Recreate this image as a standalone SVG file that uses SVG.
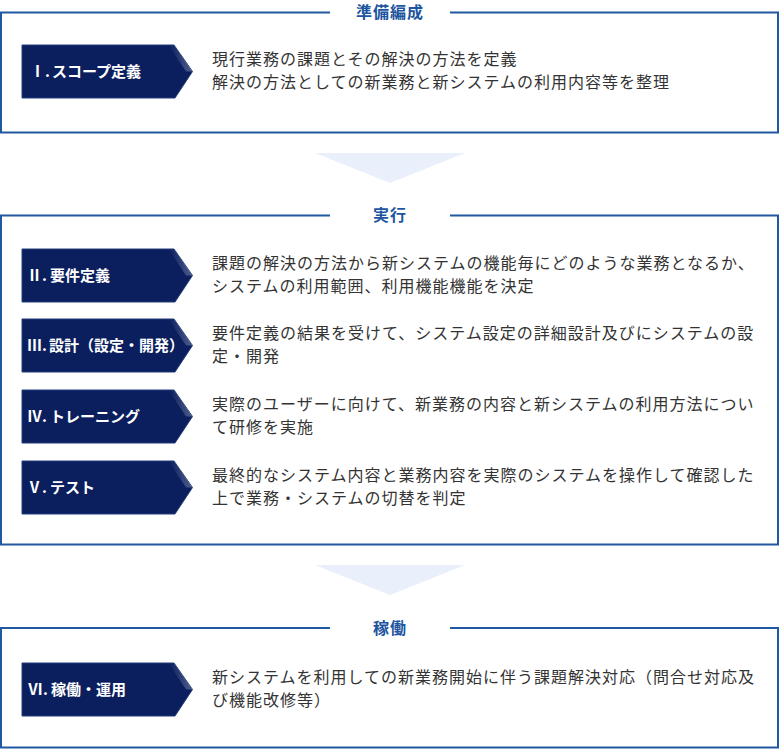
<svg xmlns="http://www.w3.org/2000/svg" xmlns:xlink="http://www.w3.org/1999/xlink" width="780" height="749" viewBox="0 0 780 749">
<style>
.sec{fill:#fff;stroke:#2159a0;stroke-width:2}
.title{font-family:"Noto Sans CJK JP","Noto Sans",sans-serif;font-size:16px;font-weight:bold;fill:#1d55a0;text-anchor:middle;letter-spacing:1px}
.lab{font-family:"Noto Sans CJK JP","Noto Sans",sans-serif;font-size:15px;font-weight:bold;fill:#fff}
.desc{font-family:"Noto Sans CJK JP","Noto Sans",sans-serif;font-size:16px;fill:#333;letter-spacing:1px}
.arrow{fill:#eaeffc}
</style>
<defs>
<linearGradient id="bev" x1="0" y1="0" x2="1" y2="0">
<stop offset="0" stop-color="#ffffff" stop-opacity="0"/>
<stop offset="1" stop-color="#ffffff" stop-opacity="0.28"/>
</linearGradient>
<g id="chev">
<polygon points="22,0 174,0 192.5,26.5 175,53 22,53" fill="#0b1f5e" stroke="#233c7a" stroke-width="1"/>
<polygon points="174,0 192.5,26.5 186,26.5 169,1" fill="url(#bev)"/>
</g>
</defs>

<g id="sections">
<rect class="sec" x="1" y="12.5" width="777" height="120"/>
<rect x="330" y="4" width="120" height="18" fill="#fff"/>
<text class="title" x="390" y="18">準備編成</text>
<rect class="sec" x="1" y="215.5" width="777" height="329"/>
<rect x="330" y="206" width="120" height="18" fill="#fff"/>
<text class="title" x="390" y="221">実行</text>
<rect class="sec" x="1" y="628" width="777" height="119.5"/>
<rect x="330" y="619" width="120" height="18" fill="#fff"/>
<text class="title" x="390" y="634">稼働</text>
</g>

<g id="connectors">
<polygon class="arrow" points="315,153 465,153 390,183"/>
<polygon class="arrow" points="315,565 465,565 390,595"/>
</g>

<g id="node-1">
<use xlink:href="#chev" href="#chev" transform="translate(0,45)"/>
<text class="lab" x="30" y="76.5">Ⅰ.<tspan dx="2">スコープ定義</tspan></text>
<text class="desc" x="212" y="64.5">現行業務の課題とその解決の方法を定義</text>
<text class="desc" x="212" y="87.5">解決の方法としての新業務と新システムの利用内容等を整理</text>
</g>

<g id="node-2">
<use xlink:href="#chev" href="#chev" transform="translate(0,249)"/>
<text class="lab" x="27" y="280.5">Ⅱ.<tspan dx="3">要件定義</tspan></text>
<text class="desc" x="212" y="268.5">課題の解決の方法から新システムの機能毎にどのような業務となるか、</text>
<text class="desc" x="212" y="291.5">システムの利用範囲、利用機能機能を決定</text>
</g>

<g id="node-3">
<use xlink:href="#chev" href="#chev" transform="translate(0,319)"/>
<text class="lab" x="27" y="350.5">Ⅲ.<tspan dx="2">設計（設定・開発）</tspan></text>
<text class="desc" x="212" y="338.5">要件定義の結果を受けて、システム設定の詳細設計及びにシステムの設</text>
<text class="desc" x="212" y="361.5">定・開発</text>
</g>

<g id="node-4">
<use xlink:href="#chev" href="#chev" transform="translate(0,390)"/>
<text class="lab" x="27" y="421.5">Ⅳ.<tspan dx="3">トレーニング</tspan></text>
<text class="desc" x="212" y="409.5">実際のユーザーに向けて、新業務の内容と新システムの利用方法につい</text>
<text class="desc" x="212" y="432.5">て研修を実施</text>
</g>

<g id="node-5">
<use xlink:href="#chev" href="#chev" transform="translate(0,461)"/>
<text class="lab" x="27" y="492.5">Ⅴ.<tspan dx="3">テスト</tspan></text>
<text class="desc" x="212" y="480.5">最終的なシステム内容と業務内容を実際のシステムを操作して確認した</text>
<text class="desc" x="212" y="503.5">上で業務・システムの切替を判定</text>
</g>

<g id="node-6">
<use xlink:href="#chev" href="#chev" transform="translate(0,663)"/>
<text class="lab" x="28" y="694.5">Ⅵ.<tspan dx="3">稼働・運用</tspan></text>
<text class="desc" x="212" y="682.5">新システムを利用しての新業務開始に伴う課題解決対応（問合せ対応及</text>
<text class="desc" x="212" y="705.5">び機能改修等）</text>
</g>
</svg>
